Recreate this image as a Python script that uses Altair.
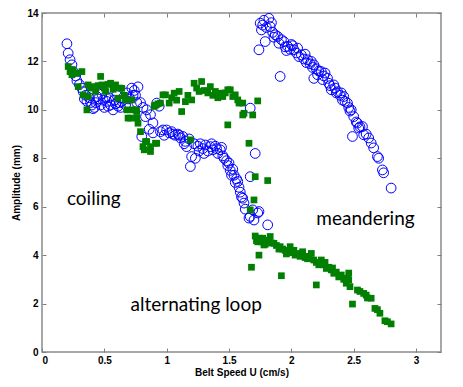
import altair as alt
import pandas as pd

# Blue open circles
circle_x = [0.20, 0.21, 0.225, 0.24, 0.25, 0.27, 0.28, 0.30, 0.32, 0.33, 0.35, 0.36, 0.38, 0.40, 0.41,
            0.43, 0.45, 0.47, 0.49, 0.50, 0.52, 0.54, 0.55, 0.57, 0.58, 0.60, 0.62, 0.63, 0.65, 0.67,
            0.68, 0.70, 0.72, 0.74, 0.75, 0.76, 0.77, 0.79, 0.81, 0.84, 0.83, 0.87, 0.89, 0.86, 0.80,
            0.89, 0.92, 0.94, 0.95, 0.97, 1.00, 1.02, 1.05, 1.07, 1.09, 1.11, 1.13, 1.15, 1.16, 1.18,
            1.20, 1.19, 1.23, 1.22, 1.25, 1.27, 1.29, 1.31, 1.33, 1.35, 1.37, 1.39, 1.41, 1.43, 1.45,
            1.46, 1.48, 1.49, 1.51, 1.52, 1.54, 1.55, 1.57, 1.58, 1.59, 1.60, 1.62, 1.63, 1.66, 1.67,
            1.69, 1.70, 1.73, 1.74, 1.81, 1.67, 1.71, 1.67,
            0.34, 0.39, 0.44, 0.48, 0.53, 0.59, 0.64, 0.69, 0.73, 0.42, 0.51, 0.61,
            0.98, 1.04, 1.10, 1.14, 1.26, 1.30, 1.36, 1.40, 1.44, 1.50, 1.53, 1.56, 1.61,
            1.74, 1.75, 1.76, 1.77, 1.78, 1.79, 1.80, 1.82, 1.83, 1.84, 1.85, 1.87, 1.89, 1.91, 1.92,
            1.94, 1.95, 1.97, 1.99, 2.00, 2.02, 2.04, 2.05, 2.08, 2.10, 2.11, 2.13, 2.15, 2.16, 2.18,
            2.18, 2.20, 2.22, 2.24, 2.26, 2.27, 2.29, 2.30, 2.32, 2.34, 2.35, 2.37, 2.39, 2.40, 2.42,
            2.43, 2.45, 2.46, 2.48, 2.49, 2.50, 2.52, 2.53, 2.55, 2.57, 2.58, 2.60, 2.62, 2.64, 2.66,
            2.69, 2.70, 2.73, 2.74, 2.80,
            1.86, 1.90, 1.96, 2.01, 2.06, 2.12, 2.17, 2.21, 2.25, 2.31, 2.36, 2.41, 2.47, 2.54]
circle_y = [12.73, 12.34, 12.07, 11.86, 11.58, 11.40, 11.20, 11.05, 10.90, 10.75, 10.60, 10.35, 10.50, 10.20, 10.05,
            10.30, 10.45, 10.20, 10.40, 10.10, 10.35, 10.50, 10.20, 10.00, 10.40, 10.60, 10.30, 10.10, 10.50, 10.20,
            10.70, 10.50, 10.90, 10.80, 10.60, 10.30, 10.95, 10.30, 10.10, 10.00, 9.72, 9.80, 9.46, 9.20, 8.90,
            9.05, 10.28, 10.15, 9.10, 9.17, 9.17, 9.05, 9.00, 8.95, 9.00, 8.84, 8.90, 8.70, 8.48, 8.80,
            8.07, 7.66, 8.00, 8.60, 8.50, 8.60, 8.40, 8.55, 8.30, 8.48, 8.35, 8.50, 8.20, 8.35, 8.10,
            8.00, 7.90, 7.70, 7.50, 7.30, 7.30, 7.00, 7.04, 6.80, 6.60, 6.40, 6.15, 5.90, 5.53, 5.60,
            5.87, 5.45, 5.74, 5.80, 5.25, 7.24, 8.20, 10.07,
            10.45, 10.30, 10.55, 10.65, 10.15, 10.25, 10.35, 10.45, 10.60, 10.10, 10.55, 10.15,
            8.95, 9.10, 8.95, 8.60, 8.30, 8.20, 8.60, 8.40, 8.45, 7.80, 7.55, 7.15, 6.35,
            12.48, 13.58, 13.30, 13.50, 13.70, 12.82, 13.40, 13.78, 13.44, 13.60, 13.20, 13.10, 13.03, 11.38, 12.90,
            12.82, 12.60, 12.62, 12.50, 12.70, 12.48, 12.35, 12.55, 12.27, 12.10, 12.30, 12.07, 11.90, 12.00, 11.86,
            11.30, 11.70, 11.60, 11.58, 11.40, 11.52, 11.30, 11.10, 10.83, 11.03, 10.90, 10.75, 10.60, 10.70, 10.55,
            10.35, 10.28, 10.10, 10.00, 8.90, 9.72, 9.50, 9.45, 9.30, 9.31, 8.97, 9.00, 8.84, 8.63, 8.43,
            8.07, 8.00, 7.52, 7.40, 6.77,
            13.00, 12.75, 12.45, 12.65, 12.20, 11.95, 11.75, 11.45, 11.25, 11.00, 10.70, 10.40, 9.95, 9.25]

# Green filled squares
square_x = [0.21, 0.225, 0.24, 0.25, 0.28, 0.29, 0.32, 0.33, 0.36, 0.37, 0.37, 0.39, 0.41, 0.43, 0.45,
            0.47, 0.48, 0.50, 0.51, 0.53, 0.55, 0.57, 0.59, 0.61, 0.62, 0.64, 0.66, 0.67, 0.68, 0.69,
            0.71, 0.72, 0.73, 0.75, 0.76, 0.77, 0.76, 0.79, 0.81, 0.82, 0.83, 0.84, 0.87, 0.87, 0.91,
            0.92, 0.90, 0.91, 0.93, 0.95, 0.97, 0.99, 1.02, 1.04, 1.06, 1.08, 1.10, 1.12, 1.15, 1.17,
            1.20, 1.22, 1.24, 1.26, 1.28, 1.30, 1.33, 1.35, 1.37, 1.39, 1.41, 1.43, 1.45, 1.47, 1.49,
            1.51, 1.53, 1.55, 1.57, 1.58, 1.61, 1.62, 1.61, 1.69, 1.73, 1.49, 1.19, 1.66, 1.71, 1.81,
            1.70, 1.67, 1.71, 1.72, 1.74, 1.76, 1.77, 1.78, 1.80, 1.83, 1.84, 1.86, 1.88, 1.91, 1.93,
            1.95, 1.97, 1.99, 2.01, 2.03, 2.05, 2.07, 2.09, 2.11, 2.13, 2.16, 2.18, 2.20, 2.22, 2.24,
            2.26, 2.28, 2.30, 2.32, 2.34, 2.36, 2.38, 2.40, 2.42, 2.44, 2.45, 2.47, 2.53, 2.55, 2.58,
            2.60, 2.64, 2.67, 2.69, 2.71, 2.75, 2.77, 2.80, 1.74, 1.68, 1.92, 2.20, 2.49, 2.33, 2.46,
            2.46, 2.61, 1.73, 1.79, 1.82, 1.90, 1.96, 2.02, 2.14, 2.27]
square_y = [11.79, 11.58, 11.45, 11.65, 11.51, 10.96, 11.58, 10.62, 10.00, 11.03, 10.55, 10.90, 10.96, 10.76, 11.00,
            11.38, 11.03, 10.90, 10.76, 11.05, 11.10, 10.85, 11.03, 10.48, 10.90, 10.89, 10.60, 10.41, 10.00, 9.66,
            9.66, 10.41, 10.00, 10.00, 9.66, 9.45, 9.93, 9.10, 8.48, 8.35, 8.69, 8.69, 8.28, 8.48, 8.62,
            8.62, 10.14, 10.20, 10.25, 10.28, 10.62, 10.62, 10.28, 10.50, 10.69, 10.40, 10.76, 9.93, 10.34, 10.60,
            10.41, 11.10, 10.90, 10.76, 11.17, 10.80, 10.70, 10.96, 10.60, 10.76, 10.50, 10.69, 10.55, 10.70, 10.83,
            10.83, 10.55, 10.62, 10.41, 10.28, 10.28, 9.86, 9.79, 9.79, 10.37, 9.38, 8.76, 8.62, 7.24, 7.08,
            6.28, 5.87, 4.79, 4.60, 4.70, 4.55, 4.70, 4.42, 4.60, 4.77, 4.50, 4.49, 4.40, 4.35, 4.25,
            4.20, 4.14, 4.35, 4.10, 4.00, 4.07, 3.95, 4.14, 3.90, 3.85, 4.07, 3.80, 3.70, 3.60, 3.80,
            3.60, 3.45, 3.50, 3.39, 3.25, 3.30, 3.10, 3.18, 3.00, 2.84, 3.05, 2.70, 2.56, 2.50, 2.42,
            2.35, 2.22, 1.80, 1.75, 1.60, 1.29, 1.25, 1.16, 4.00, 3.50, 3.15, 2.77, 1.98, 3.47, 3.26,
            2.98, 2.23, 4.55, 4.45, 4.62, 4.25, 4.05, 4.20, 3.95, 3.70]

label_text = ["coiling", "meandering", "alternating loop"]
label_x = [0.20, 2.20, 0.71]
label_y = [6.3, 5.5, 1.95]

x_ticks = [0, 0.5, 1, 1.5, 2, 2.5, 3]
y_ticks = [0, 2, 4, 6, 8, 10, 12, 14]

circles_df = pd.DataFrame({"x": circle_x, "y": circle_y})
squares_df = pd.DataFrame({"x": square_x, "y": square_y})
labels_df = pd.DataFrame({"x": label_x, "y": label_y, "t": label_text})

xs = alt.Scale(domain=[0, 3.2], nice=False)
ys = alt.Scale(domain=[0, 14], nice=False)

common_axis = dict(
    offset=-4, tickSize=4, domain=False, grid=False, tickColor="#808080",
    labelFont="Liberation Sans", labelFontWeight="bold", labelFontSize=10, labelColor="black",
    titleFont="Liberation Sans", titleFontWeight="bold", titleFontSize=10, titleColor="black",
)

circles = alt.Chart(circles_df).mark_point(
    shape="circle", filled=False, color="#0000ff", size=95, strokeWidth=1, opacity=1
).encode(
    x=alt.X("x:Q", scale=xs, axis=alt.Axis(values=x_ticks, format="~g", title="Belt Speed U (cm/s)",
                                           labelPadding=3, titlePadding=2, orient="bottom", **common_axis)),
    y=alt.Y("y:Q", scale=ys, axis=alt.Axis(values=y_ticks, format="~g", title="Amplitude (mm)",
                                           labelPadding=4, titlePadding=5, orient="left", **common_axis)),
)

squares = alt.Chart(squares_df).mark_square(color="#007f00", size=45, opacity=1).encode(
    x=alt.X("x:Q", scale=xs, axis=None),
    y=alt.Y("y:Q", scale=ys, axis=None),
)

texts = alt.Chart(labels_df).mark_text(
    align="left", baseline="middle", font="Lato", fontSize=19, color="black"
).encode(
    x=alt.X("x:Q", scale=xs, axis=alt.Axis(values=x_ticks, orient="top", labels=False, title=None,
                                           offset=-4, tickSize=4, domain=False, grid=False, tickColor="#808080")),
    y=alt.Y("y:Q", scale=ys, axis=alt.Axis(values=y_ticks, orient="right", labels=False, title=None,
                                           offset=-4, tickSize=4, domain=False, grid=False, tickColor="#808080")),
    text="t:N",
)

chart = alt.layer(circles, squares, texts).resolve_axis(
    x="independent", y="independent"
).properties(
    width=399, height=339,
    autosize=alt.AutoSizeParams(type="none"),
    padding={"left": 34, "top": 5, "right": 12, "bottom": 32},
).configure_view(stroke="#8a8a8a", strokeWidth=1.5)

chart.save("out.html", embed_options={"renderer": "svg", "actions": False})
